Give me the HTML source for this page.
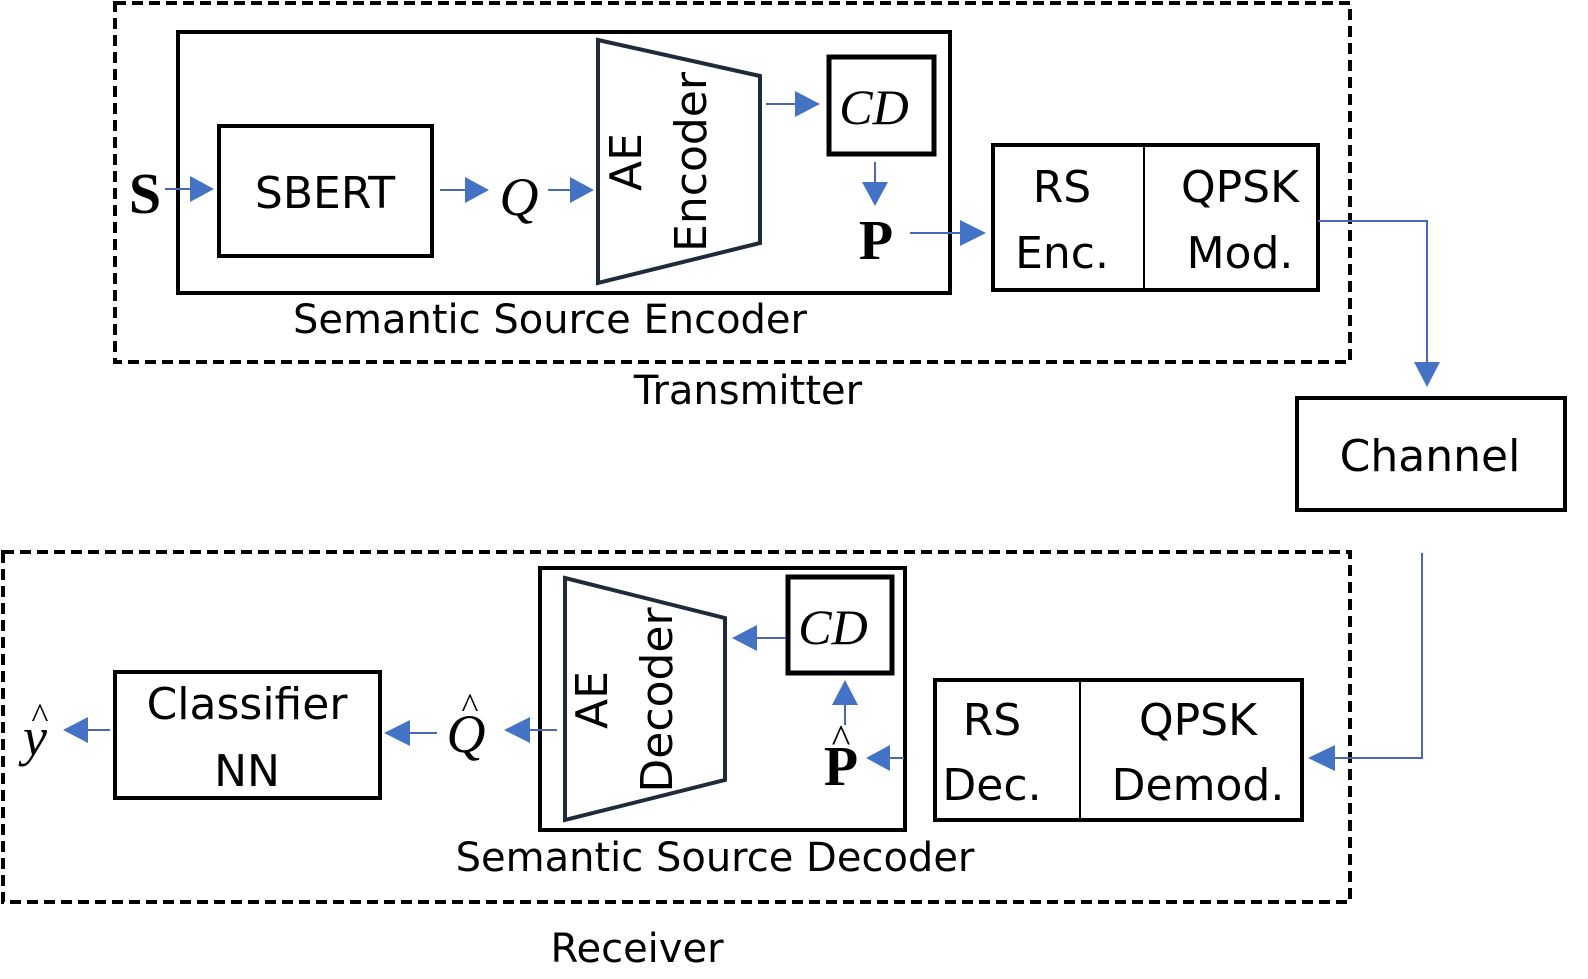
<!DOCTYPE html>
<html><head><meta charset="utf-8"><style>
html,body{margin:0;padding:0;background:#fff;}
svg{display:block;}
text{font-family:"DejaVu Sans","Liberation Sans",sans-serif;fill:#000;}
.m{font-family:"Liberation Serif",serif;}
</style></head><body>
<svg width="1588" height="979" viewBox="0 0 1588 979" xmlns="http://www.w3.org/2000/svg">
<defs>
<marker id="a" markerWidth="10" markerHeight="10" refX="9" refY="5" orient="auto" markerUnits="userSpaceOnUse" viewBox="0 0 10 10">
</marker>
</defs>
<g fill="none" stroke="#000">
<rect x="115" y="3" width="1235" height="359" stroke-width="4" stroke-dasharray="11 6"/>
<rect x="3" y="552" width="1347" height="350" stroke-width="4" stroke-dasharray="11 6"/>
<rect x="178" y="32" width="772" height="261" stroke-width="4"/>
<rect x="219" y="126" width="213" height="130" stroke-width="4"/>
<polygon points="598,40 760,76 760,243 598,283" stroke="#1f2a3a" stroke-width="4"/>
<rect x="829" y="57" width="105" height="97" stroke-width="5"/>
<rect x="993" y="145" width="325" height="145" stroke-width="4"/>
<line x1="1144" y1="145" x2="1144" y2="290" stroke-width="2"/>
<rect x="1297" y="398" width="268" height="112" stroke-width="4"/>
<rect x="540" y="568" width="365" height="262" stroke-width="4"/>
<polygon points="565,578 725,618 725,780 565,820" stroke="#1f2a3a" stroke-width="4"/>
<rect x="788" y="577" width="104" height="96" stroke-width="5"/>
<rect x="935" y="680" width="367" height="140" stroke-width="4"/>
<line x1="1080" y1="680" x2="1080" y2="820" stroke-width="2"/>
<rect x="115" y="672" width="265" height="126" stroke-width="4"/>
</g>
<g stroke="#4a66b8" stroke-width="2" fill="none">
<line x1="165" y1="189" x2="190" y2="189"/>
<line x1="440" y1="190" x2="465" y2="190"/>
<line x1="548" y1="190" x2="570" y2="190"/>
<line x1="766" y1="104" x2="795" y2="104"/>
<line x1="875" y1="162" x2="875" y2="182"/>
<line x1="910" y1="233" x2="960" y2="233"/>
<polyline points="1318,221 1427,221 1427,362"/>
<polyline points="1422,553 1422,758 1335,758"/>
<line x1="904" y1="758" x2="890" y2="758"/>
<line x1="845" y1="725" x2="845" y2="705"/>
<line x1="786" y1="638" x2="757" y2="638"/>
<line x1="557" y1="730" x2="530" y2="730"/>
<line x1="437" y1="733" x2="410" y2="733"/>
<line x1="110" y1="730" x2="88" y2="730"/>
</g>
<g fill="#4472c4">
<polygon points="190,176 214,189 190,202"/>
<polygon points="465,177 489,190 465,203"/>
<polygon points="570,177 594,190 570,203"/>
<polygon points="795,91 820,104 795,117"/>
<polygon points="862,182 888,182 875,206"/>
<polygon points="960,220 986,233 960,246"/>
<polygon points="1414,362 1440,362 1427,387"/>
<polygon points="1335,745 1335,771 1308,758"/>
<polygon points="890,745 890,771 866,758"/>
<polygon points="832,705 858,705 845,680"/>
<polygon points="757,625 757,651 732,638"/>
<polygon points="530,717 530,743 504,730"/>
<polygon points="410,720 410,746 384,733"/>
<polygon points="88,717 88,743 63,730"/>
</g>
<g font-size="44" text-anchor="middle">
<text x="325" y="208">SBERT</text>
<text x="1062" y="202">RS</text>
<text x="1062" y="268">Enc.</text>
<text x="1240" y="202">QPSK</text>
<text x="1240" y="268">Mod.</text>
<text x="1430" y="471">Channel</text>
<text x="992" y="735">RS</text>
<text x="992" y="800">Dec.</text>
<text x="1198" y="735">QPSK</text>
<text x="1198" y="800">Demod.</text>
<text x="247" y="719">Classifier</text>
<text x="247" y="786">NN</text>
</g>
<g font-size="40" text-anchor="middle">
<text x="550" y="333">Semantic Source Encoder</text>
<text x="748" y="404">Transmitter</text>
<text x="715" y="871">Semantic Source Decoder</text>
<text x="637" y="962">Receiver</text>
</g>
<g font-size="44" text-anchor="middle">
<text transform="translate(641,162) rotate(-90)">AE</text>
<text transform="translate(706,162) rotate(-90)">Encoder</text>
<text transform="translate(607,700) rotate(-90)">AE</text>
<text transform="translate(672,700) rotate(-90)">Decoder</text>
</g>
<g class="m" text-anchor="middle">
<text class="m" x="145" y="213" font-size="58" font-weight="bold">S</text>
<text class="m" x="519" y="215" font-size="54" font-style="italic">Q</text>
<text class="m" x="874" y="124" font-size="50" font-style="italic">CD</text>
<text class="m" x="876" y="259" font-size="56" font-weight="bold">P</text>
<text class="m" x="833" y="644" font-size="50" font-style="italic">CD</text>
<text class="m" x="841" y="785" font-size="56" font-weight="bold">P</text>
<text class="m" x="841" y="752" font-size="40">^</text>
<text class="m" x="466" y="752" font-size="54" font-style="italic">Q</text>
<text class="m" x="470" y="718" font-size="36">^</text>
<text class="m" x="35" y="755" font-size="54" font-style="italic">y</text>
<text class="m" x="40" y="728" font-size="36">^</text>
</g>
</svg>
</body></html>
